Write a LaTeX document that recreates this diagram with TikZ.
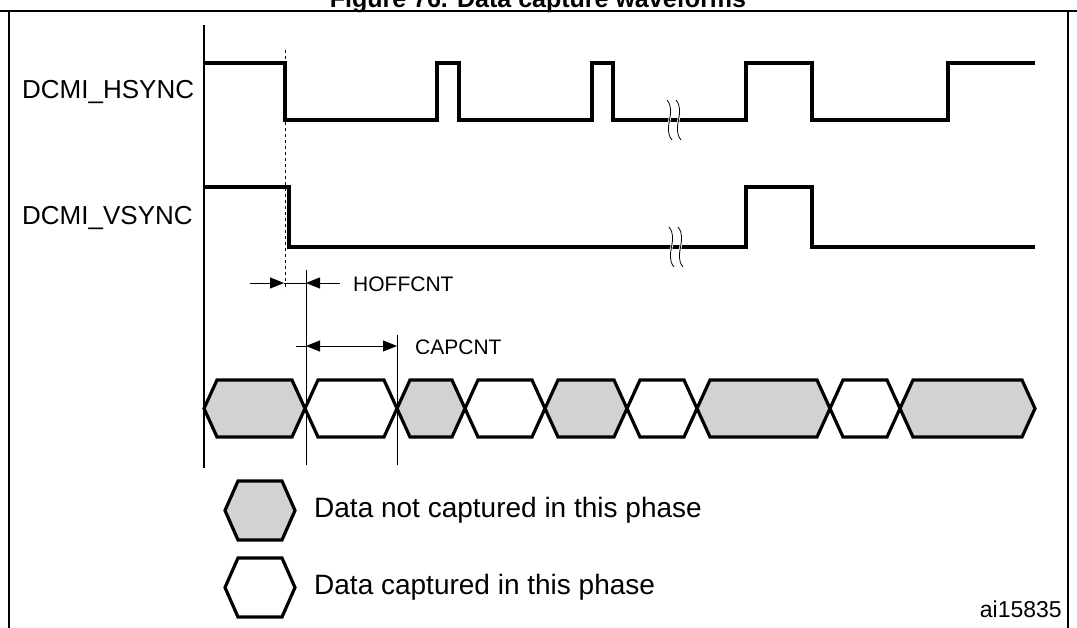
\documentclass[tikz,border=0pt]{standalone}
\usepackage{fontspec}
\setmainfont{Liberation Sans}
\usetikzlibrary{positioning, arrows.meta}
\tikzset{
	sig/.style={line width=3.2pt, line join=miter},
	dim/.style={line width=1pt},
	tip/.style={-{Triangle[length=14pt,width=11pt]}},
	lbl/.style={font=\fontsize{21}{23}\selectfont, anchor=west, inner sep=0pt},
	cell/.style={line width=3.2pt, line join=miter},
}
% hexagon data cell: x0, x1, top, bottom, fill
\newcommand{\datacell}[5]{%
	\draw[cell, fill=#5] (#1,{(#3+#4)/2})--(#1+13,#3)--(#2-13,#3)
	--(#2,{(#3+#4)/2})--(#2-13,#4)--(#1+13,#4)--cycle;}
\begin{document}
\begin{tikzpicture}[x=1pt, y=-1pt]
		\useasboundingbox (0,0) rectangle (1077,627);
		\begin{scope}
		\clip (0,0) rectangle (1077,627);
		\node[font=\bfseries\fontsize{25}{27}\selectfont, anchor=base, inner sep=0pt] (title) at (538,7) {Figure 76. Data capture waveforms};
		\end{scope}
		\draw[line width=2pt] (9,628)--(9,11)--(1068,11)--(1068,628);
		\draw[line width=2pt] (0,11)--(1077,11);
		\draw[line width=1.5pt] (204,25)--(204,468);
		
		% signal labels
		\node[lbl, font=\fontsize{26}{28}\selectfont] (hs) at (22,92) {DCMI\_HSYNC};
		\node[lbl, font=\fontsize{26}{28}\selectfont] (vs) at (22,218) {DCMI\_VSYNC};
		
		% waveforms
		\draw[sig] (204,63)--(285,63)--(285,120)--(437,120)--(437,63)--(459,63)
		--(459,120)--(592,120)--(592,63)--(613,63)--(613,120)--(746,120)
		--(746,63)--(812,63)--(812,120)--(948,120)--(948,63)--(1035,63);
		\draw[sig] (204,187)--(289,187)--(289,247)--(746,247)--(746,187)
		--(812,187)--(812,247)--(1035,247);
		
		% break marks
		\foreach \y/\d in {120/0, 247/1}{
			\foreach \s in {0,9}{
				\draw[line width=0.8pt, white, double=black, double distance=0.8pt]
				(667+\s+\d*2,\y-20) .. controls (677+\s+\d*2,\y-8) and (662+\s+\d*2,\y+8) .. (672+\s+\d*2,\y+20);
			}
		}
		
		\draw[dim, dashed] (285,50)--(285,290);
		
		% HOFFCNT
		\coordinate (h0) at (250,283);
		\coordinate (h1) at (284,283);
		\coordinate (h2) at (340,283);
		\coordinate (h3) at (306,283);
		\draw[dim] (306,270)--(306,465);
		\draw[dim, tip] (h0)--(h1);
		\draw[dim, tip] (h2)--(h3);
		\draw[dim] (h1)--(h3);
		\node[lbl] (hoff) at (353,284) {HOFFCNT};
		
		% CAPCNT
		\coordinate (c0) at (296,346);
		\coordinate (c1) at (397,346);
		\draw[dim] (397,335)--(397,465);
		\draw[dim, {Triangle[length=14pt,width=11pt]}-{Triangle[length=14pt,width=11pt]}] (306,346)--(c1);
		\draw[dim] (c0)--(306,346);
		\node[lbl] (cap) at (415,347) {CAPCNT};
		
		% data bus
		\foreach \a/\b/\f in {204/305/gray!35, 305/397/white, 397/465/gray!35,
			465/545/white, 545/627/gray!35, 627/697/white, 697/830/gray!35,
			830/900/white, 900/1035/gray!35}{
			\datacell{\a}{\b}{380}{437}{\f}
		}
		
		% legend
		\datacell{225}{295}{481}{540}{gray!35}
		\datacell{225}{295}{558}{617}{white}
		\node[lbl, font=\fontsize{28}{30}\selectfont] (notcap) at (314,510) {Data not captured in this phase};
		\node[lbl, font=\fontsize{28}{30}\selectfont] (iscap) at (314,587) {Data captured in this phase};
		\node[lbl, font=\fontsize{23}{25}\selectfont, anchor=east] (code) at (1062,609) {ai15835};
\end{tikzpicture}
\end{document}
